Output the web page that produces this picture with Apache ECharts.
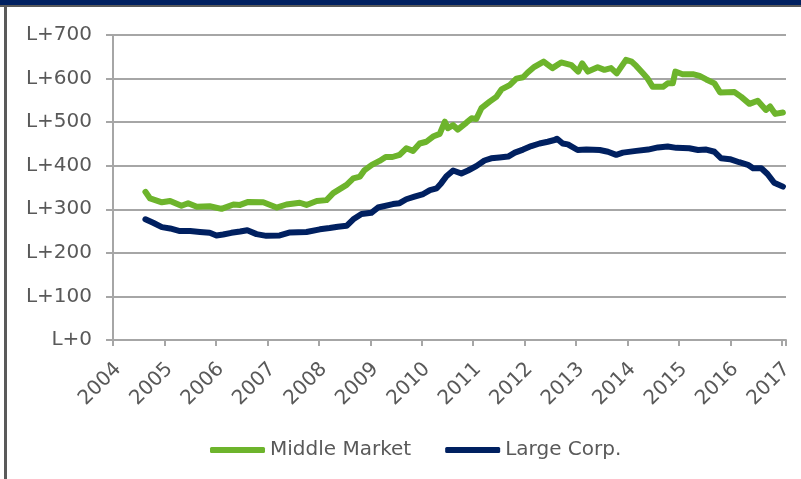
<!DOCTYPE html>
<html>
<head>
<meta charset="utf-8">
<script src="https://cdn.jsdelivr.net/npm/echarts@6/dist/echarts.min.js"></script>
<style>
  html, body { margin: 0; padding: 0; background: #fff; }
  #chart { width: 801px; height: 479px; }
</style>
</head>
<body>
<div id="chart"></div>
<script>
// x tick labels
var yearTicks = [2004, 2005, 2006, 2007, 2008, 2009, 2010, 2011, 2012, 2013, 2014, 2015, 2016, 2017];

// Middle Market (spread over Libor, bp)
var mmYears = [2004.63,2004.72,2004.95,2005.11,2005.33,2005.46,2005.63,2005.88,2006.11,2006.34,
  2006.47,2006.63,2006.92,2007.18,2007.37,2007.63,2007.76,2007.96,2008.15,2008.28,
  2008.54,2008.67,2008.80,2008.89,2009.03,2009.18,2009.30,2009.43,2009.57,2009.70,
  2009.83,2009.96,2010.09,2010.22,2010.35,2010.45,2010.51,2010.61,2010.70,2010.87,
  2010.97,2011.06,2011.16,2011.32,2011.45,2011.55,2011.71,2011.84,2011.97,2012.06,
  2012.19,2012.37,2012.54,2012.71,2012.91,2013.04,2013.12,2013.23,2013.42,2013.55,
  2013.68,2013.79,2013.97,2014.08,2014.17,2014.30,2014.39,2014.49,2014.69,2014.78,
  2014.88,2014.93,2015.07,2015.27,2015.40,2015.53,2015.69,2015.80,2016.08,2016.21,
  2016.37,2016.53,2016.69,2016.77,2016.87,2017.02];
var mmValues = [340,325,316,319,308,314,306,307,301,311,
  310,317,316,304,311,315,310,319,321,337,
  356,371,375,390,402,411,420,420,425,440,
  434,451,455,467,473,501,486,493,483,499,
  509,507,532,547,558,575,585,600,603,614,
  627,639,624,637,631,616,635,616,626,620,
  624,612,643,639,629,612,600,581,581,589,
  589,616,610,610,606,598,589,568,569,558,
  542,549,528,536,519,522];

// Large Corp.
var lcYears = [2004.63,2004.78,2004.95,2005.11,2005.30,2005.50,2005.69,2005.88,2006.01,2006.14,
  2006.30,2006.47,2006.61,2006.79,2006.98,2007.24,2007.44,2007.76,2008.02,2008.21,
  2008.37,2008.54,2008.67,2008.83,2009.02,2009.15,2009.44,2009.57,2009.70,2009.86,
  2010.03,2010.16,2010.29,2010.38,2010.48,2010.61,2010.77,2010.90,2011.06,2011.22,
  2011.35,2011.51,2011.68,2011.81,2011.97,2012.13,2012.29,2012.45,2012.58,2012.63,
  2012.74,2012.84,2013.03,2013.20,2013.46,2013.62,2013.78,2013.91,2014.17,2014.40,
  2014.59,2014.78,2014.95,2015.20,2015.37,2015.53,2015.69,2015.82,2015.99,2016.17,
  2016.34,2016.44,2016.60,2016.72,2016.85,2017.02];
var lcValues = [277,269,259,256,250,250,248,246,240,242,
  246,249,252,243,239,240,247,248,254,257,
  260,262,277,289,292,304,312,314,323,329,
  335,344,348,360,376,389,382,389,399,412,
  417,419,421,430,437,445,451,455,459,462,
  451,449,436,437,436,432,425,430,434,437,
  442,444,441,440,436,437,432,417,415,408,
  402,394,394,381,361,352];

function zip(xs, ys){
  var out = [];
  for (var i = 0; i < xs.length; i++) out.push([xs[i], ys[i]]);
  return out;
}

var txt = '#595959';
var grey = '#a6a6a6';
var font = 'DejaVu Sans';

var chart = echarts.init(document.getElementById('chart'));
chart.setOption({
  animation: false,
  grid: { left: 113, right: 15, top: 35, bottom: 139 },
  legend: {
    left: 205, top: 435,
    itemWidth: 55, itemHeight: 6, itemGap: 34,
    icon: 'roundRect',
    textStyle: { color: txt, fontSize: 20, fontFamily: font },
    data: ['Middle Market', 'Large Corp.']
  },
  xAxis: {
    type: 'value', min: 2004, max: 2017.08, interval: 1,
    axisLine: { lineStyle: { color: grey, width: 2 } },
    axisTick: { show: true, length: 6, lineStyle: { color: grey, width: 2 } },
    axisLabel: { show: false },
    splitLine: { show: false }
  },
  yAxis: {
    type: 'value', min: 0, max: 700, interval: 100,
    axisLine: { show: true, lineStyle: { color: grey, width: 2 } },
    axisTick: { show: true, length: 7, lineStyle: { color: grey, width: 2 } },
    axisLabel: { margin: 21, color: txt, fontSize: 20, fontFamily: font,
      formatter: function(v){ return 'L+' + v; } },
    splitLine: { lineStyle: { color: grey, width: 2 } }
  },
  series: [
    { name: 'Middle Market', type: 'line', data: zip(mmYears, mmValues), showSymbol: false,
      itemStyle: { color: '#6db42c' },
      lineStyle: { color: '#6db42c', width: 6, cap: 'round', join: 'round' } },
    { name: 'Large Corp.', type: 'line', data: zip(lcYears, lcValues), showSymbol: false,
      itemStyle: { color: '#002060' },
      lineStyle: { color: '#002060', width: 6, cap: 'round', join: 'round' } }
  ]
});

// frame pieces + slanted year labels placed through the axis scale
var gfx = [
  { type: 'rect', shape: { x: 0, y: 0, width: 801, height: 5 }, style: { fill: '#002060' } },
  { type: 'rect', shape: { x: 0, y: 5, width: 801, height: 2 }, style: { fill: '#5a5a5a' } },
  { type: 'rect', shape: { x: 4, y: 5, width: 3, height: 474 }, style: { fill: '#5a5a5a' } }
];
yearTicks.forEach(function(yr){
  var p = chart.convertToPixel({ gridIndex: 0 }, [yr, 0]);
  gfx.push({
    type: 'text', x: p[0] + 5, y: p[1] + 26, rotation: Math.PI / 4,
    style: { text: String(yr), fill: txt, fontSize: 20, fontFamily: font,
      align: 'right', verticalAlign: 'middle' }
  });
});
chart.setOption({ graphic: gfx });
</script>
</body>
</html>
